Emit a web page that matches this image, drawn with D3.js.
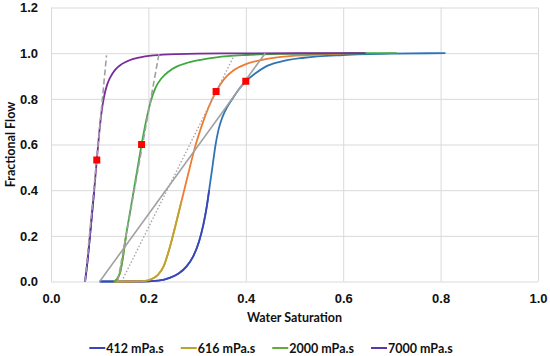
<!DOCTYPE html>
<html>
<head>
<meta charset="utf-8">
<script src="https://cdn.jsdelivr.net/npm/d3@7"></script>
<style>
    body { margin: 0; background: #fff; }
    svg { display: block; font-family: Lato, "Open Sans", sans-serif; }
    .grid line { stroke: #d9d9d9; stroke-width: 1; }
    .grid path { display: none; }
    .ticks path, .ticks line { display: none; }
    .ticks text { font-size: 13px; font-weight: bold; fill: #111; }
    .title { font-size: 12.5px; font-weight: bold; fill: #111; }
    .legend text { font-size: 12.5px; font-weight: bold; fill: #111; }
</style>
</head>
<body>
<div id="wrapper"></div>
<script>
// series names and colours (lower part of each curve, as in the legend / upper part)
var series_names = ['412 mPa.s', '616 mPa.s', '2000 mPa.s', '7000 mPa.s'];
var low_colors = ['#3d44b9', '#bba62c', '#66a83a', '#5b37ab'];
var high_colors = ['#2e75b6', '#f07c30', '#3caa3c', '#7a2c9c'];
var split_fw = [0.4, 0.35, 0.2, 0.4];

// fractional flow curves, [water saturation, fractional flow]
var fw_412 = [[0.10, 0], [0.18, 0], [0.22, 0.004], [0.245, 0.017], [0.262, 0.035],
    [0.278, 0.065], [0.292, 0.11], [0.304, 0.175], [0.313, 0.25], [0.32, 0.33],
    [0.326, 0.42], [0.332, 0.51], [0.338, 0.60], [0.344, 0.665], [0.352, 0.72],
    [0.362, 0.765], [0.374, 0.805], [0.387, 0.845], [0.40, 0.877], [0.42, 0.912],
    [0.44, 0.94], [0.47, 0.962], [0.52, 0.98], [0.60, 0.992], [0.70, 0.998], [0.81, 1.0]];
var fw_616 = [[0.13, 0], [0.19, 0.002], [0.21, 0.014], [0.22, 0.03], [0.231, 0.065],
    [0.244, 0.15], [0.255, 0.24], [0.266, 0.335], [0.277, 0.43], [0.288, 0.525],
    [0.298, 0.605], [0.31, 0.685], [0.323, 0.76], [0.339, 0.832], [0.355, 0.885],
    [0.375, 0.925], [0.40, 0.952], [0.436, 0.972], [0.48, 0.985], [0.55, 0.994], [0.645, 1.0]];
var fw_2000 = [[0.129, 0], [0.135, 0.01], [0.142, 0.04], [0.148, 0.11], [0.154, 0.20],
    [0.162, 0.30], [0.170, 0.40], [0.178, 0.50], [0.186, 0.60], [0.195, 0.70],
    [0.205, 0.79], [0.215, 0.85], [0.227, 0.89], [0.242, 0.92], [0.26, 0.943],
    [0.28, 0.958], [0.31, 0.972], [0.34, 0.982], [0.40, 0.992], [0.48, 0.997],
    [0.58, 0.999], [0.71, 1.0]];
var fw_7000 = [[0.07, 0], [0.075, 0.09], [0.080, 0.20], [0.085, 0.315], [0.090, 0.43],
    [0.094, 0.532], [0.099, 0.65], [0.104, 0.745], [0.109, 0.81], [0.115, 0.86],
    [0.122, 0.895], [0.132, 0.928], [0.145, 0.952], [0.16, 0.968], [0.18, 0.98],
    [0.21, 0.99], [0.26, 0.996], [0.35, 0.999], [0.646, 1.0]];
var curves = [fw_412, fw_616, fw_2000, fw_7000];

// Welge tangent points (red squares)
var tangent_points = [[0.40, 0.877], [0.339, 0.832], [0.186, 0.60], [0.094, 0.532]];

// tangent lines, [start, end] and style
var tangent_lines = [
    {pts: [[0.10, 0], [0.44, 1.0]], dash: null},
    {pts: [[0.145, 0], [0.376, 0.99]], dash: '1.5,2'},
    {pts: [[0.137, 0], [0.222, 1.0]], dash: '6,3'},
    {pts: [[0.07, 0], [0.114, 0.99]], dash: '6,3'}
];

var x_ticks = [0, 0.2, 0.4, 0.6, 0.8, 1.0];
var y_ticks = [0, 0.2, 0.4, 0.6, 0.8, 1.0, 1.2];

var WIDTH = 550, HEIGHT = 356;
var MARGIN = {left: 51, right: 12, top: 7.5, bottom: 74.5};
var DRAW_WIDTH = WIDTH - MARGIN.left - MARGIN.right;
var DRAW_HEIGHT = HEIGHT - MARGIN.top - MARGIN.bottom;

var svg = d3.select('#wrapper').append('svg')
    .attr('width', WIDTH)
    .attr('height', HEIGHT);
var draw_area = svg.append('g')
    .attr('transform', 'translate(' + MARGIN.left + ',' + MARGIN.top + ')');

var scale_x = d3.scaleLinear().domain([0, 1]).range([0, DRAW_WIDTH]);
var scale_y = d3.scaleLinear().domain([0, 1.2]).range([DRAW_HEIGHT, 0]);

// grid
draw_area.append('g')
    .attr('class', 'grid')
    .attr('transform', 'translate(0,' + DRAW_HEIGHT + ')')
    .call(d3.axisBottom(scale_x).tickValues(x_ticks).tickSize(-DRAW_HEIGHT).tickFormat(''));
draw_area.append('g')
    .attr('class', 'grid')
    .call(d3.axisLeft(scale_y).tickValues(y_ticks).tickSize(-DRAW_WIDTH).tickFormat(''));

// tick labels
draw_area.append('g')
    .attr('class', 'ticks')
    .attr('transform', 'translate(0,' + DRAW_HEIGHT + ')')
    .call(d3.axisBottom(scale_x).tickValues(x_ticks).tickSize(0).tickPadding(12)
        .tickFormat(d3.format('.1f')));
draw_area.append('g')
    .attr('class', 'ticks')
    .call(d3.axisLeft(scale_y).tickValues(y_ticks).tickSize(0).tickPadding(13)
        .tickFormat(d3.format('.1f')));

// axis titles
svg.append('text')
    .attr('class', 'title')
    .attr('x', MARGIN.left + DRAW_WIDTH / 2)
    .attr('y', 322)
    .attr('text-anchor', 'middle')
    .text('Water Saturation');
svg.append('text')
    .attr('class', 'title')
    .attr('transform', 'translate(15,' + (MARGIN.top + DRAW_HEIGHT / 2) + ') rotate(-90)')
    .attr('text-anchor', 'middle')
    .text('Fractional Flow');

var line = d3.line()
    .x(function(d) { return scale_x(d[0]); })
    .y(function(d) { return scale_y(d[1]); })
    .curve(d3.curveMonotoneX);

// clip paths for the lower part of each curve
var defs = svg.append('defs');
split_fw.forEach(function(f, i) {
    defs.append('clipPath').attr('id', 'low-' + i)
      .append('rect')
        .attr('x', -5)
        .attr('y', scale_y(f))
        .attr('width', DRAW_WIDTH + 10)
        .attr('height', DRAW_HEIGHT - scale_y(f) + 5);
});

var curve_g = draw_area.append('g');
curves.forEach(function(c, i) {
    curve_g.append('path')
        .attr('d', line(c))
        .attr('fill', 'none')
        .attr('stroke', high_colors[i])
        .attr('stroke-width', 1.8);
    curve_g.append('path')
        .attr('d', line(c))
        .attr('clip-path', 'url(#low-' + i + ')')
        .attr('fill', 'none')
        .attr('stroke', low_colors[i])
        .attr('stroke-width', 1.8);
});

// tangent lines
draw_area.append('g').selectAll('path')
    .data(tangent_lines)
    .enter()
  .append('path')
    .attr('d', function(d) { return d3.line()
        .x(function(p) { return scale_x(p[0]); })
        .y(function(p) { return scale_y(p[1]); })(d.pts); })
    .attr('fill', 'none')
    .attr('stroke', '#a0a0a0')
    .attr('stroke-width', function(d) { return d.dash === '1.5,2' ? 1.3 : 1.6; })
    .attr('stroke-dasharray', function(d) { return d.dash; });

// red squares
var SQ = 7;
draw_area.append('g').selectAll('rect')
    .data(tangent_points)
    .enter()
  .append('rect')
    .attr('x', function(d) { return scale_x(d[0]) - SQ / 2; })
    .attr('y', function(d) { return scale_y(d[1]) - SQ / 2; })
    .attr('width', SQ)
    .attr('height', SQ)
    .attr('fill', '#ff0000');

// legend
var legend = svg.append('g').attr('class', 'legend');
var pos = 0;
series_names.forEach(function(name, i) {
    var item = legend.append('g').attr('transform', 'translate(' + pos + ',0)');
    item.append('line')
        .attr('x1', 0).attr('x2', 16)
        .attr('y1', 0).attr('y2', 0)
        .attr('stroke', low_colors[i])
        .attr('stroke-width', 2);
    var t = item.append('text')
        .attr('x', 17)
        .attr('y', 4.5)
        .text(name);
    pos += 17 + t.node().getComputedTextLength() + 17;
});
pos -= 17;
legend.attr('transform', 'translate(' + (271 - pos / 2) + ',348)');
</script>
</body>
</html>
